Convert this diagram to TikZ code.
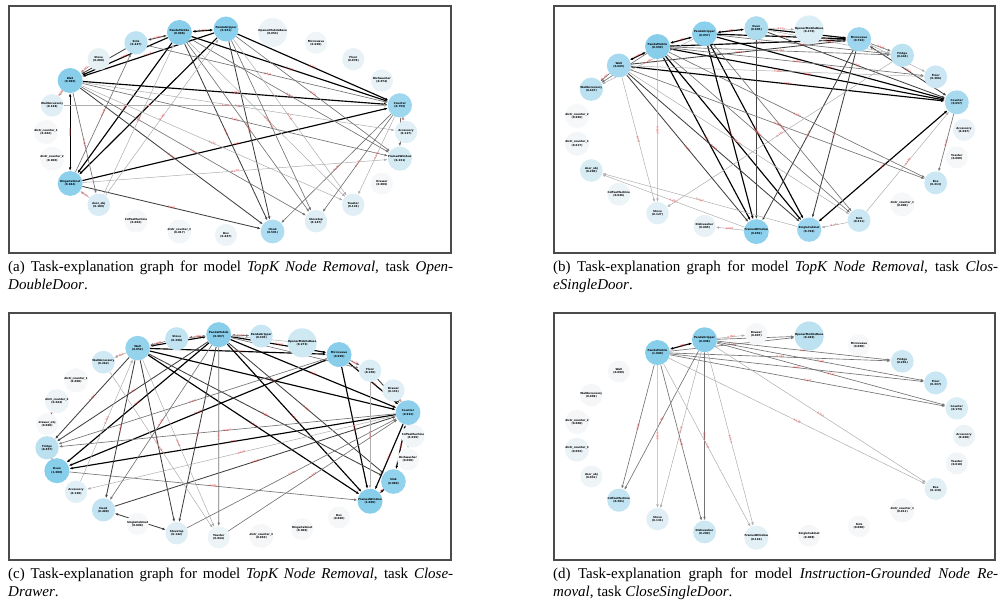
\documentclass[tikz,border=0pt]{standalone}
\usepackage{fontspec}
\setmainfont{Liberation Serif}
\newfontfamily\graphfont{DejaVu Sans}
\usetikzlibrary{arrows.meta, backgrounds}
\definecolor{nodesky}{RGB}{135, 206, 235}
\definecolor{nodepale}{RGB}{246, 247, 248}
\definecolor{weightred}{RGB}{245, 60, 60}
\definecolor{framegray}{RGB}{75, 75, 75}

\begin{document}
\begin{tikzpicture}[
    x=1pt, y=-1pt,
    >={Latex[length=3.4pt, width=2.6pt]},
    obj/.style={circle, draw=none, inner sep=0pt, align=center,
                font=\graphfont\bfseries\fontsize{2.7}{3.2}\selectfont},
    elite/.style={->, draw=black!32, line width=0.5pt},
    emid/.style={->, draw=black!55, line width=0.65pt},
    edark/.style={->, draw=black!75, line width=0.85pt},
    eheavy/.style={->, draw=black, line width=1.15pt},
    wlabel/.style={midway, sloped, inner sep=0.4pt, text=weightred,
                   font=\graphfont\fontsize{2.6}{2.9}\selectfont},
    panel/.style={draw=framegray, line width=1.1pt},
    caption/.style={anchor=north west, inner sep=0pt, text width=445pt,
                    align=justify, font=\fontsize{15}{18}\selectfont},
  ]
    \useasboundingbox (0,0) rectangle (1003,610);

    % Frames
    \draw[panel] (9,6) rectangle (451,253);
    \draw[panel] (554,6) rectangle (995,253);
    \draw[panel] (9,313) rectangle (451,560);
    \draw[panel] (554,313) rectangle (995,560);

    % (a) OpenDoubleDoor, circular layout
    \foreach \k/\nm/\txt/\v in {
        0/a-acc/Accessory/0.127, 1/a-counter/Counter/0.755,
        2/a-dish/Dishwasher/0.074, 3/a-floor/Floor/0.078,
        4/a-micro/Microwave/0.028, 5/a-opener/OpenerMobileBase/0.053,
        6/a-gripper/PandaGripper/0.951, 7/a-mobile/PandaMobile/0.998,
        8/a-sink/Sink/0.437, 9/a-stove/Stove/0.088,
        10/a-wall/Wall/0.990, 11/a-wallacc/WallAccessory/0.138,
        12/a-dc1/distr\_counter\_1/0.002, 13/a-dc2/distr\_counter\_2/0.000,
        14/a-hinge/HingeCabinet/0.944, 15/a-door/door\_obj/0.189,
        16/a-coffee/CoffeeMachine/0.003, 17/a-dc3/distr\_counter\_3/0.017,
        18/a-box/Box/0.047, 19/a-hood/Hood/0.591,
        20/a-stovetop/Stovetop/0.147, 21/a-toaster/Toaster/0.133,
        22/a-drawer/Drawer/0.000, 23/a-window/FramedWindow/0.231}
    {
      \pgfmathtruncatemacro{\pct}{100*(\v)^0.8}
      \node[obj, fill=nodesky!\pct!nodepale, minimum size={22+3*\v}]
        (\nm) at ({226+180*cos(15*\k)}, {132-103*sin(15*\k)}) {\txt\\(\v)};
    }

    % (b) CloseSingleDoor
    \foreach \k/\nm/\txt/\v in {
        0/b-acc/Accessory/0.067, 1/b-counter/Counter/0.657,
        2/b-floor/Floor/0.306, 3/b-fridge/Fridge/0.444,
        4/b-micro/Microwave/0.763, 5/b-opener/OpenerMobileBase/0.170,
        6/b-oven/Oven/0.605, 7/b-gripper/PandaGripper/0.957,
        8/b-mobile/PandaMobile/0.999, 9/b-wall/Wall/0.665,
        10/b-wallacc/WallAccessory/0.447, 11/b-dc2/distr\_counter\_2/0.006,
        12/b-dc3/distr\_counter\_3/0.017, 13/b-door/door\_obj/0.200,
        14/b-coffee/CoffeeMachine/0.046, 15/b-stove/Stove/0.127,
        16/b-dish/Dishwasher/0.085, 17/b-window/FramedWindow/0.952,
        18/b-single/SingleCabinet/0.766, 19/b-sink/Sink/0.311,
        20/b-dc1/distr\_counter\_1/0.000, 21/b-box/Box/0.313,
        22/b-toaster/Toaster/0.000}
    {
      \pgfmathtruncatemacro{\pct}{100*(\v)^0.8}
      \node[obj, fill=nodesky!\pct!nodepale, minimum size={22+3*\v}]
        (\nm) at ({769.6+194.4*cos(360/23*\k)}, {129.85-102*sin(360/23*\k)}) {\txt\\(\v)};
    }

    % (c) CloseDrawer
    \foreach \k/\nm/\txt/\v in {
        0/c-coffee/CoffeeMachine/0.029, 1/c-counter/Counter/0.933,
        2/c-drawer/Drawer/0.131, 3/c-floor/Floor/0.158,
        4/c-micro/Microwave/0.999, 5/c-opener/OpenerMobileBase/0.273,
        6/c-gripper/PandaGripper/0.335, 7/c-mobile/PandaMobile/0.997,
        8/c-stove/Stove/0.398, 9/c-wall/Wall/0.852,
        10/c-wallacc/WallAccessory/0.262, 11/c-dc1/distr\_counter\_1/0.000,
        12/c-dc2/distr\_counter\_2/0.044, 13/c-drawerobj/drawer\_obj/0.000,
        14/c-fridge/Fridge/0.457, 15/c-oven/Oven/1.000,
        16/c-acc/Accessory/0.130, 17/c-hood/Hood/0.400,
        18/c-single/SingleCabinet/0.000, 19/c-stovetop/Stovetop/0.142,
        20/c-toaster/Toaster/0.044, 21/c-dc3/distr\_counter\_3/0.010,
        22/c-hinge/HingeCabinet/0.000, 23/c-box/Box/0.000,
        24/c-window/FramedWindow/1.000, 25/c-sink/Sink/0.889,
        26/c-dish/Dishwasher/0.000}
    {
      \pgfmathtruncatemacro{\pct}{100*(\v)^0.8}
      \node[obj, fill=nodesky!\pct!nodepale, minimum size={22+3*\v}]
        (\nm) at ({229.4+183.6*cos(360/27*\k)}, {436-101.5*sin(360/27*\k)}) {\txt\\(\v)};
    }

    % (d) CloseSingleDoor, instruction-grounded
    \foreach \k/\nm/\txt/\v in {
        0/d-acc/Accessory/0.060, 1/d-counter/Counter/0.173,
        2/d-floor/Floor/0.337, 3/d-fridge/Fridge/0.281,
        4/d-micro/Microwave/0.000, 5/d-opener/OpenerMobileBase/0.449,
        6/d-drawer/Drawer/0.007, 7/d-gripper/PandaGripper/0.998,
        8/d-mobile/PandaMobile/1.000, 9/d-wall/Wall/0.009,
        10/d-wallacc/WallAccessory/0.009, 11/d-dc2/distr\_counter\_2/0.008,
        12/d-dc3/distr\_counter\_3/0.052, 13/d-door/door\_obj/0.031,
        14/d-coffee/CoffeeMachine/0.381, 15/d-stove/Stove/0.131,
        16/d-dish/Dishwasher/0.289, 17/d-window/FramedWindow/0.110,
        18/d-single/SingleCabinet/0.008, 19/d-sink/Sink/0.000,
        20/d-dc1/distr\_counter\_1/0.011, 21/d-box/Box/0.118,
        22/d-toaster/Toaster/0.018}
    {
      \pgfmathtruncatemacro{\pct}{100*(\v)^0.8}
      \node[obj, fill=nodesky!\pct!nodepale, minimum size={22+3*\v}]
        (\nm) at ({769.6+194.4*cos(360/23*\k)}, {435.85-102*sin(360/23*\k)}) {\txt\\(\v)};
    }

    \begin{scope}[on background layer]
    % Edges (a)
    \draw[eheavy, <->] (a-mobile) -- node[wlabel] {1.000} (a-gripper);
    \draw[eheavy] (a-mobile) -- node[wlabel] {0.948} (a-wall);
    \draw[eheavy] (a-gripper) -- node[wlabel] {0.946} (a-wall);
    \draw[eheavy, <->] (a-wall) -- node[wlabel] {0.984} (a-hinge);
    \draw[eheavy] (a-mobile) -- node[wlabel] {0.960} (a-hinge);
    \draw[eheavy] (a-gripper) -- node[wlabel] {0.942} (a-hinge);
    \draw[eheavy] (a-wall) -- node[wlabel] {0.753} (a-counter);
    \draw[eheavy] (a-hinge) -- node[wlabel] {0.720} (a-counter);
    \draw[eheavy] (a-gripper) -- node[wlabel] {0.751} (a-counter);
    \draw[eheavy] (a-mobile) -- node[wlabel] {0.755} (a-counter);
    \draw[edark, <->] (a-sink) -- node[wlabel] {0.436} (a-mobile);
    \draw[edark] (a-sink) -- node[wlabel] {0.437} (a-wall);
    \draw[edark] (a-mobile) -- node[wlabel] {0.589} (a-hood);
    \draw[edark] (a-gripper) -- node[wlabel] {0.590} (a-hood);
    \draw[edark] (a-wall) -- node[wlabel] {0.591} (a-hood);
    \draw[edark] (a-hinge) -- node[wlabel] {0.587} (a-hood);
    \draw[emid] (a-counter) -- node[wlabel] {0.591} (a-hood);
    \draw[elite] (a-stove) -- node[wlabel] {0.087} (a-wall);
    \draw[elite] (a-wallacc) -- node[wlabel] {0.135} (a-counter);
    \draw[elite] (a-wall) -- node[wlabel] {0.138} (a-wallacc);
    \draw[elite] (a-wall) -- node[wlabel] {0.127} (a-acc);
    \draw[emid] (a-wall) -- node[wlabel] {0.229} (a-window);
    \draw[elite] (a-wall) -- node[wlabel] {0.132} (a-toaster);
    \draw[emid] (a-wall) -- node[wlabel] {0.146} (a-stovetop);
    \draw[emid] (a-mobile) -- node[wlabel] {0.147} (a-stovetop);
    \draw[elite] (a-mobile) -- node[wlabel] {0.133} (a-toaster);
    \draw[emid] (a-mobile) -- node[wlabel] {0.231} (a-window);
    \draw[emid] (a-gripper) -- node[wlabel] {0.220} (a-window);
    \draw[elite] (a-gripper) -- node[wlabel] {0.131} (a-toaster);
    \draw[emid] (a-gripper) -- node[wlabel] {0.140} (a-stovetop);
    \draw[emid] (a-counter) -- node[wlabel] {0.147} (a-stovetop);
    \draw[elite] (a-counter) -- node[wlabel] {0.133} (a-toaster);
    \draw[emid] (a-counter) -- node[wlabel] {0.231} (a-window);
    \draw[elite] (a-counter) -- node[wlabel] {0.127} (a-acc);
    \draw[elite] (a-hinge) -- node[wlabel] {0.179} (a-window);
    \draw[elite] (a-door) -- node[wlabel] {0.188} (a-mobile);
    \draw[elite] (a-door) -- node[wlabel] {0.185} (a-gripper);
    \draw[emid] (a-wall) -- node[wlabel] {0.188} (a-door);
    \draw[elite] (a-door) -- node[wlabel] {0.187} (a-hinge);
    \draw[emid] (a-hinge) -- node[wlabel] {0.436} (a-sink);
    \draw[emid] (a-sink) -- node[wlabel] {0.435} (a-counter);

    % Edges (b)
    \draw[eheavy, <->] (b-mobile) -- node[wlabel] {0.957} (b-gripper);
    \draw[eheavy, <->] (b-gripper) -- node[wlabel] {0.605} (b-oven);
    \draw[eheavy, <->] (b-wall) -- node[wlabel] {0.665} (b-mobile);
    \draw[eheavy] (b-mobile) -- node[wlabel] {0.763} (b-micro);
    \draw[eheavy] (b-gripper) -- node[wlabel] {0.760} (b-micro);
    \draw[eheavy] (b-oven) -- node[wlabel] {0.605} (b-micro);
    \draw[eheavy] (b-mobile) -- node[wlabel] {0.657} (b-counter);
    \draw[eheavy] (b-gripper) -- node[wlabel] {0.655} (b-counter);
    \draw[eheavy] (b-wall) -- node[wlabel] {0.650} (b-counter);
    \draw[eheavy] (b-mobile) -- node[wlabel] {0.952} (b-window);
    \draw[eheavy] (b-gripper) -- node[wlabel] {0.950} (b-window);
    \draw[eheavy] (b-mobile) -- node[wlabel] {0.766} (b-single);
    \draw[eheavy] (b-gripper) -- node[wlabel] {0.765} (b-single);
    \draw[edark] (b-wall) -- node[wlabel] {0.665} (b-window);
    \draw[edark] (b-wall) -- node[wlabel] {0.664} (b-single);
    \draw[edark] (b-oven) -- node[wlabel] {0.605} (b-window);
    \draw[edark] (b-micro) -- node[wlabel] {0.763} (b-window);
    \draw[edark] (b-micro) -- node[wlabel] {0.760} (b-single);
    \draw[eheavy, <->] (b-single) -- node[wlabel] {0.657} (b-counter);
    \draw[edark] (b-wall) -- node[wlabel] {0.665} (b-micro);
    \draw[edark] (b-oven) -- node[wlabel] {0.605} (b-counter);
    \draw[edark, <->] (b-micro) -- node[wlabel] {0.657} (b-counter);
    \draw[emid] (b-mobile) -- node[wlabel] {0.444} (b-fridge);
    \draw[emid] (b-gripper) -- node[wlabel] {0.441} (b-fridge);
    \draw[elite] (b-oven) -- node[wlabel] {0.444} (b-fridge);
    \draw[emid] (b-micro) -- node[wlabel] {0.444} (b-fridge);
    \draw[emid] (b-mobile) -- node[wlabel] {0.306} (b-floor);
    \draw[elite] (b-wall) -- node[wlabel] {0.305} (b-floor);
    \draw[elite] (b-micro) -- node[wlabel] {0.306} (b-floor);
    \draw[emid] (b-counter) -- node[wlabel] {0.313} (b-box);
    \draw[emid] (b-mobile) -- node[wlabel] {0.313} (b-box);
    \draw[emid] (b-wall) -- node[wlabel] {0.312} (b-box);
    \draw[emid] (b-mobile) -- node[wlabel] {0.311} (b-sink);
    \draw[emid] (b-gripper) -- node[wlabel] {0.310} (b-sink);
    \draw[elite] (b-wall) -- node[wlabel] {0.311} (b-sink);
    \draw[elite] (b-sink) -- node[wlabel] {0.311} (b-single);
    \draw[elite] (b-sink) -- node[wlabel] {0.309} (b-counter);
    \draw[elite] (b-window) -- node[wlabel] {0.199} (b-door);
    \draw[elite] (b-single) -- node[wlabel] {0.197} (b-door);
    \draw[elite] (b-window) -- node[wlabel] {0.085} (b-dish);
    \draw[elite] (b-mobile) -- node[wlabel] {0.127} (b-stove);
    \draw[elite] (b-wall) -- node[wlabel] {0.127} (b-stove);
    \draw[elite] (b-fridge) -- node[wlabel] {0.127} (b-stove);
    \draw[emid] (b-wall) -- node[wlabel] {0.447} (b-wallacc);
    \draw[emid] (b-mobile) -- node[wlabel] {0.447} (b-wallacc);
    \draw[elite] (b-gripper) -- node[wlabel] {0.445} (b-wallacc);
    \draw[elite] (b-oven) -- node[wlabel] {0.170} (b-opener);

    % Edges (c)
    \draw[eheavy, <->] (c-wall) -- node[wlabel] {0.852} (c-mobile);
    \draw[eheavy] (c-mobile) -- node[wlabel] {0.997} (c-micro);
    \draw[eheavy] (c-wall) -- node[wlabel] {0.852} (c-micro);
    \draw[eheavy] (c-mobile) -- node[wlabel] {0.997} (c-oven);
    \draw[eheavy, <->] (c-micro) -- node[wlabel] {0.999} (c-oven);
    \draw[eheavy] (c-counter) -- node[wlabel] {0.935} (c-oven);
    \draw[eheavy] (c-mobile) -- node[wlabel] {0.935} (c-counter);
    \draw[eheavy] (c-wall) -- node[wlabel] {0.852} (c-counter);
    \draw[eheavy] (c-micro) -- node[wlabel] {0.935} (c-counter);
    \draw[eheavy] (c-mobile) -- node[wlabel] {0.997} (c-window);
    \draw[eheavy] (c-wall) -- node[wlabel] {0.852} (c-window);
    \draw[eheavy] (c-micro) -- node[wlabel] {0.999} (c-window);
    \draw[edark] (c-mobile) -- node[wlabel] {0.889} (c-sink);
    \draw[edark] (c-wall) -- node[wlabel] {0.852} (c-sink);
    \draw[eheavy, <->] (c-counter) -- node[wlabel] {0.889} (c-sink);
    \draw[eheavy] (c-sink) -- node[wlabel] {0.889} (c-window);
    \draw[eheavy] (c-counter) -- node[wlabel] {0.935} (c-window);
    \draw[edark] (c-wall) -- node[wlabel] {0.400} (c-hood);
    \draw[edark] (c-wall) -- node[wlabel] {0.142} (c-stovetop);
    \draw[edark] (c-mobile) -- node[wlabel] {0.142} (c-stovetop);
    \draw[edark, <->] (c-hood) -- node[wlabel] {0.400} (c-stovetop);
    \draw[edark] (c-hood) -- node[wlabel] {0.400} (c-counter);
    \draw[edark] (c-mobile) -- node[wlabel] {0.457} (c-fridge);
    \draw[edark] (c-wall) -- node[wlabel] {0.457} (c-fridge);
    \draw[emid] (c-micro) -- node[wlabel] {0.457} (c-fridge);
    \draw[emid] (c-counter) -- node[wlabel] {0.457} (c-fridge);
    \draw[elite] (c-fridge) -- node[wlabel] {0.457} (c-oven);
    \draw[edark] (c-drawerobj) -- node[wlabel] {0.000} (c-dc2);
    \draw[edark] (c-floor) -- node[wlabel] {0.158} (c-counter);
    \draw[emid] (c-mobile) -- node[wlabel] {0.158} (c-floor);
    \draw[emid] (c-micro) -- node[wlabel] {0.158} (c-floor);
    \draw[elite] (c-drawer) -- node[wlabel] {0.131} (c-counter);
    \draw[emid, <->] (c-gripper) -- node[wlabel] {0.335} (c-mobile);
    \draw[elite] (c-opener) -- node[wlabel] {0.273} (c-mobile);
    \draw[emid, <->] (c-stove) -- node[wlabel] {0.398} (c-mobile);
    \draw[emid] (c-stove) -- node[wlabel] {0.398} (c-wall);
    \draw[emid] (c-mobile) -- node[wlabel] {0.044} (c-toaster);
    \draw[elite] (c-wall) -- node[wlabel] {0.044} (c-toaster);
    \draw[emid] (c-toaster) -- node[wlabel] {0.044} (c-counter);
    \draw[emid] (c-stovetop) -- node[wlabel] {0.142} (c-counter);
    \draw[emid] (c-oven) -- node[wlabel] {0.995} (c-window);
    \draw[elite] (c-counter) -- node[wlabel] {0.130} (c-acc);
    \draw[elite] (c-acc) -- node[wlabel] {0.130} (c-wall);
    \draw[elite] (c-floor) -- node[wlabel] {0.158} (c-window);
    \draw[elite, <->] (c-counter) -- node[wlabel] {0.029} (c-coffee);
    \draw[elite] (c-counter) -- node[wlabel] {0.000} (c-dish);
    \draw[elite] (c-wallacc) -- node[wlabel] {0.262} (c-toaster);
    \draw[emid] (c-mobile) -- node[wlabel] {0.400} (c-hood);
    \draw[elite] (c-wall) -- node[wlabel] {0.262} (c-wallacc);

    % Edges (d)
    \draw[eheavy, <->] (d-mobile) -- node[wlabel] {0.998} (d-gripper);
    \draw[elite] (d-gripper) -- node[wlabel] {0.007} (d-drawer);
    \draw[emid] (d-mobile) -- node[wlabel] {0.449} (d-opener);
    \draw[emid] (d-gripper) -- node[wlabel] {0.448} (d-opener);
    \draw[emid] (d-mobile) -- node[wlabel] {0.281} (d-fridge);
    \draw[emid] (d-gripper) -- node[wlabel] {0.280} (d-fridge);
    \draw[emid] (d-mobile) -- node[wlabel] {0.337} (d-floor);
    \draw[emid] (d-gripper) -- node[wlabel] {0.336} (d-floor);
    \draw[emid] (d-mobile) -- node[wlabel] {0.173} (d-counter);
    \draw[emid] (d-gripper) -- node[wlabel] {0.172} (d-counter);
    \draw[elite] (d-mobile) -- node[wlabel] {0.118} (d-box);
    \draw[elite] (d-gripper) -- node[wlabel] {0.117} (d-box);
    \draw[emid] (d-mobile) -- node[wlabel] {0.381} (d-coffee);
    \draw[emid] (d-gripper) -- node[wlabel] {0.380} (d-coffee);
    \draw[elite] (d-mobile) -- node[wlabel] {0.131} (d-stove);
    \draw[elite] (d-gripper) -- node[wlabel] {0.131} (d-stove);
    \draw[emid] (d-mobile) -- node[wlabel] {0.289} (d-dish);
    \draw[emid] (d-gripper) -- node[wlabel] {0.288} (d-dish);
    \draw[elite] (d-mobile) -- node[wlabel] {0.110} (d-window);
    \draw[elite] (d-gripper) -- node[wlabel] {0.110} (d-window);
    \end{scope}

    % Captions
    \node[caption] (cap-a) at (8,260.5) {(a) Task-explanation graph for model \textit{TopK Node Removal}, task \textit{Open-}\linebreak\textit{DoubleDoor}.};
    \node[caption] (cap-b) at (553,260.5) {(b) Task-explanation graph for model \textit{TopK Node Removal}, task \textit{Clos-}\linebreak\textit{eSingleDoor}.};
    \node[caption] (cap-c) at (8,567.5) {(c) Task-explanation graph for model \textit{TopK Node Removal}, task \textit{Close-}\linebreak\textit{Drawer}.};
    \node[caption] (cap-d) at (553,567.5) {(d) Task-explanation graph for model \textit{Instruction-Grounded Node Re-}\linebreak\textit{moval}, task \textit{CloseSingleDoor}.};
\end{tikzpicture}
\end{document}
